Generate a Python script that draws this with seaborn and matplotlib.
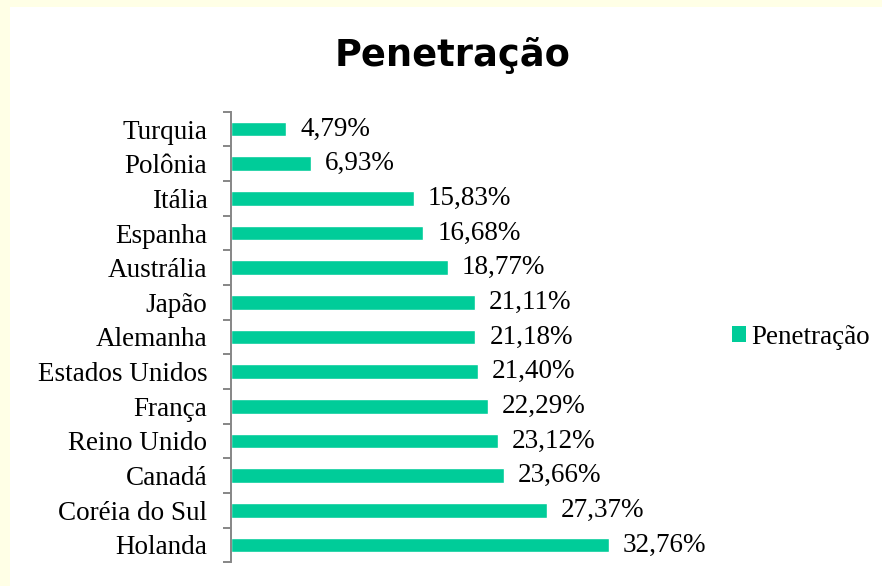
import numpy as np
import pandas as pd
import matplotlib
matplotlib.use('Agg')
import matplotlib.pyplot as plt
from matplotlib.patches import Rectangle
import seaborn as sns

# dados do gráfico
paises = ['Turquia', 'Polônia', 'Itália', 'Espanha', 'Austrália', 'Japão',
          'Alemanha', 'Estados Unidos', 'França', 'Reino Unido', 'Canadá',
          'Coréia do Sul', 'Holanda']
penetracao = [4.79, 6.93, 15.83, 16.68, 18.77, 21.11, 21.18, 21.40,
              22.29, 23.12, 23.66, 27.37, 32.76]
titulo = 'Penetração'

sns.set_style('white')
plt.rcParams['font.family'] = ['Liberation Serif', 'DejaVu Serif']
plt.rcParams['text.color'] = 'black'
plt.rcParams['ytick.labelcolor'] = 'black'

df = pd.DataFrame({'pais': paises, 'valor': penetracao})

fig = plt.figure(figsize=(8.82, 5.86), dpi=100)
fig.patch.set_facecolor('#FFFFE6')
# painel branco (borda amarela só em cima e à esquerda)
fig.patches.append(Rectangle((10 / 882, 0), 1, 1 - 7 / 586, transform=fig.transFigure,
                             facecolor='white', edgecolor='none', zorder=-5))

W, H = 882, 586
ax = fig.add_axes([231 / W, 23.7 / H, 461.6 / W, (562.3 - 111.7) / H])
ax.set_facecolor('none')

cor = '#00CC99'
sns.barplot(data=df, x='valor', y='pais', color=cor, width=0.42, ax=ax,
            saturation=1, orient='h')

ax.set_xlim(0, 40)
ax.set_ylim(len(paises) - 0.5, -0.5)
ax.set_xlabel('')
ax.set_ylabel('')
ax.set_xticks([])

for s in ['top', 'right', 'bottom']:
    ax.spines[s].set_visible(False)
ax.spines['left'].set_color('#868686')
ax.spines['left'].set_linewidth(1.4)

tam = 19.5
ax.set_yticks(np.arange(-0.5, len(paises), 1), minor=True)
ax.tick_params(axis='y', which='minor', length=6, width=1.4, color='#868686', left=True)
ax.tick_params(axis='y', which='major', length=0, pad=17, labelsize=tam, labelcolor='black')

rotulos = [f'{v:.2f}'.replace('.', ',') + '%' for v in penetracao]
ax.bar_label(ax.containers[0], labels=rotulos, padding=10, fontsize=tam, color='black')

fig.text(453 / W, 1 - 55 / H, titulo, ha='center', va='center', color='black',
         fontsize=26.5, fontweight='bold', family='DejaVu Sans')

handle = Rectangle((0, 0), 1, 1, facecolor=cor, edgecolor='none')
fig.legend([handle], ['Penetração'], loc='center left',
           bbox_to_anchor=(732 / W, 1 - 337 / H), frameon=False,
           fontsize=tam, handlelength=0.5, handleheight=0.5,
           handletextpad=0.22, borderpad=0, borderaxespad=0)

fig.savefig('out.png', dpi=100, facecolor=fig.get_facecolor())
